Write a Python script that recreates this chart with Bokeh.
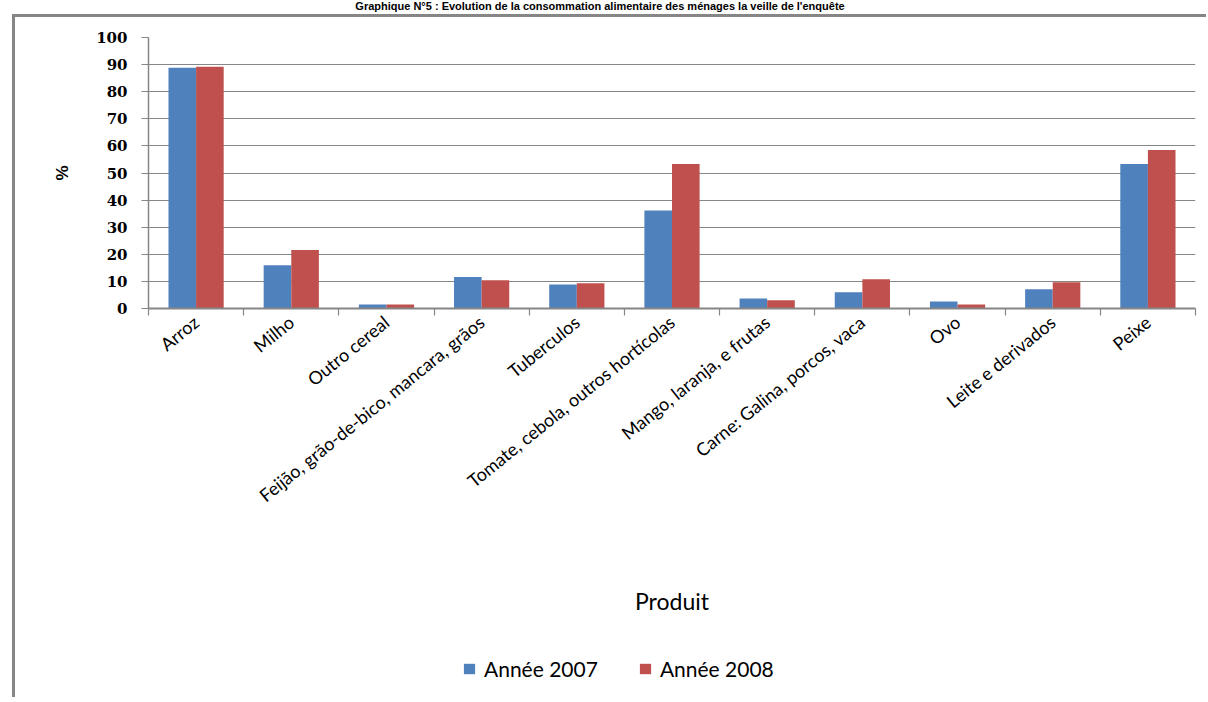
import numpy as np
from bokeh.plotting import figure
from bokeh.layouts import column
from bokeh.models import Range1d, FixedTicker, Legend, LegendItem, ColumnDataSource, Div
from bokeh.embed import file_html
from bokeh.resources import INLINE

# ---- data ----
categories = ["Arroz", "Milho", "Outro cereal", "Feijão, grão-de-bico, mancara, grãos",
              "Tuberculos", "Tomate, cebola, outros hortícolas", "Mango, laranja, e frutas",
              "Carne: Galina, porcos, vaca", "Ovo", "Leite e derivados", "Peixe"]
annee_2007 = [88.8, 16.0, 1.5, 11.6, 8.9, 36.2, 3.7, 6.0, 2.6, 7.1, 53.3]
annee_2008 = [89.2, 21.6, 1.5, 10.4, 9.3, 53.3, 3.0, 10.8, 1.5, 9.7, 58.5]
series_names = ["Année 2007", "Année 2008"]
series_colors = ["#4F81BD", "#C0504D"]
y_ticks = [0, 10, 20, 30, 40, 50, 60, 70, 80, 90, 100]
title_text = "Graphique N°5 : Evolution de la consommation alimentaire des ménages la veille de l'enquête"
x_title = "Produit"
y_title = "%"

GREY = "#868686"
LBL_FONT = "Lato"

n = len(categories)
centers = [i + 0.5 for i in range(n)]
bw = 0.29

p = figure(output_backend="svg", toolbar_location=None,
           frame_width=1044, frame_height=268,
           min_border_left=133, min_border_right=14, min_border_top=20, min_border_bottom=330,
           x_range=Range1d(0, n), y_range=Range1d(0, 100),
           background_fill_color="white", border_fill_color="white")
p.outline_line_color = None
p.styles = {"border-left": "3px solid #868686", "border-top": "3px solid #868686"}
p.margin = (-8, 0, 0, 12)

src1 = ColumnDataSource(dict(x=[c - bw / 2 for c in centers], top=annee_2007))
src2 = ColumnDataSource(dict(x=[c + bw / 2 for c in centers], top=annee_2008))
sources = [src1, src2]
r1 = p.vbar(x="x", top="top", bottom=0, width=bw, source=src1, fill_color=series_colors[0], line_color=None)
r2 = p.vbar(x="x", top="top", bottom=0, width=bw, source=src2, fill_color=series_colors[1], line_color=None)

# grid
p.xgrid.grid_line_color = None
p.ygrid.ticker = FixedTicker(ticks=y_ticks)
p.ygrid.grid_line_color = GREY
p.ygrid.grid_line_width = 1.2

# x axis
xa = p.xaxis[0]
xa.ticker = FixedTicker(ticks=centers, minor_ticks=list(range(n + 1)))
xa.major_label_overrides = {c: name for c, name in zip(centers, categories)}
xa.major_label_orientation = 0.68
xa.major_tick_out = 0
xa.major_tick_in = 0
xa.minor_tick_out = 7
xa.minor_tick_in = 0
xa.minor_tick_line_color = GREY
xa.minor_tick_line_width = 1.2
xa.axis_line_color = GREY
xa.axis_line_width = 2
xa.major_label_text_font = LBL_FONT
xa.major_label_text_font_size = "18px"
xa.major_label_text_color = "black"
xa.major_label_standoff = 4
xa.axis_label = x_title
xa.axis_label_text_font = LBL_FONT
xa.axis_label_text_font_size = "23px"
xa.axis_label_text_font_style = "normal"
xa.axis_label_text_color = "black"
xa.axis_label_standoff = 69

# y axis
ya = p.yaxis[0]
ya.ticker = FixedTicker(ticks=y_ticks)
ya.axis_line_color = GREY
ya.axis_line_width = 1.5
ya.major_tick_out = 7
ya.major_tick_in = 0
ya.major_tick_line_color = GREY
ya.major_tick_line_width = 1.2
ya.minor_tick_line_color = None
ya.major_label_text_font = "DejaVu Serif"
ya.major_label_text_font_style = "bold"
ya.major_label_text_font_size = "15px"
ya.major_label_text_color = "black"
ya.major_label_standoff = 14
ya.axis_label = y_title
ya.axis_label_text_font = "Liberation Sans"
ya.axis_label_text_font_style = "bold"
ya.axis_label_text_font_size = "17px"
ya.axis_label_text_color = "black"
ya.axis_label_standoff = 21

# legend strip below the chart: same series, drawn outside this strip's view,
# so only their legend swatches show
leg = figure(output_backend="svg", toolbar_location=None,
             width=1191, height=62, min_border=0,
             x_axis_location=None, y_axis_location=None,
             x_range=Range1d(0, n), y_range=Range1d(200, 300),
             background_fill_color="white", border_fill_color="white")
leg.outline_line_color = None
leg.grid.grid_line_color = None
leg.styles = {"border-left": "3px solid #868686"}
leg.margin = (0, 0, 0, 12)
proxies = [leg.vbar(x="x", top="top", bottom=0, width=bw, source=s, fill_color=c, line_color=None)
           for s, c in zip(sources, series_colors)]
legend = Legend(items=[LegendItem(label=name, renderers=[r]) for name, r in zip(series_names, proxies)],
                orientation="horizontal", location=(314, 16),
                border_line_color=None, background_fill_alpha=0,
                glyph_width=14, glyph_height=13, label_standoff=8, spacing=40,
                padding=0, margin=0,
                label_text_font=LBL_FONT, label_text_font_size="21px", label_text_color="black")
leg.add_layout(legend, "center")

title_div = Div(text='<span style="position:relative; top:-4px">' + title_text + '</span>',
                width=1190, height=12,
                styles={"font-family": "Liberation Sans", "font-weight": "bold",
                        "font-size": "11px", "line-height": "11px", "text-align": "center",
                        "color": "black", "white-space": "nowrap"})

layout = column(title_div, p, leg, spacing=0)
open("out.html", "w").write(file_html(layout, INLINE))
